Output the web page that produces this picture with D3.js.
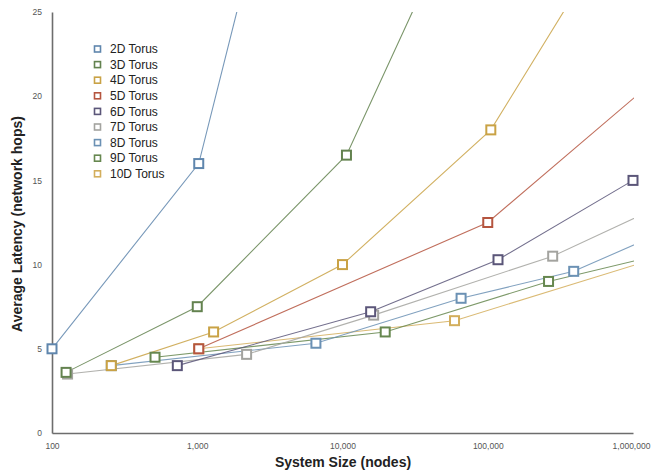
<!DOCTYPE html>
<html><head><meta charset="utf-8">
<script src="https://cdn.jsdelivr.net/npm/d3@7"></script>
<style>body{margin:0;background:#fff;}svg{display:block;font-family:"Liberation Sans",Arial,Helvetica,sans-serif;}</style>
</head><body>
<svg id="chart" width="651" height="471"></svg>
<script>
const seriesNames = ["2D Torus","3D Torus","4D Torus","5D Torus","6D Torus","7D Torus","8D Torus","9D Torus","10D Torus"];
const seriesColors = ["#5f86ad","#63824f","#c9a245","#b5553f","#5b5679","#a3a39f","#6b91b4","#66874f","#d3ae5c"];
const nodes2D = [100, 1024, 10000];            const hops2D = [5, 16, 50];
const nodes3D = [125, 1000, 10648, 97336];     const hops3D = [3.6, 7.5, 16.5, 34.5];
const nodes4D = [256, 1296, 10000, 104976, 1048576]; const hops4D = [4, 6, 10, 18, 32];
const nodes5D = [1024, 100000, 1048576];       const hops5D = [5, 12.5, 20];
const nodes6D = [729, 15625, 117649, 1000000]; const hops6D = [4, 7.2, 10.29, 15];
const nodes7D = [128, 2187, 16384, 279936, 2097152]; const hops7D = [3.5, 4.67, 7, 10.5, 14];
const nodes8D = [256, 6561, 65536, 390625, 1679616]; const hops8D = [4, 5.33, 8, 9.6, 12];
const nodes9D = [512, 19683, 262144, 1953125]; const hops9D = [4.5, 6, 9, 10.8];
const nodes10D = [1024, 59049, 1048576];       const hops10D = [5, 6.67, 10];
const xTicks = [100, 1000, 10000, 100000, 1000000];
const yTicks = [0, 5, 10, 15, 20, 25];

const allNodes = [nodes2D,nodes3D,nodes4D,nodes5D,nodes6D,nodes7D,nodes8D,nodes9D,nodes10D];
const allHops = [hops2D,hops3D,hops4D,hops5D,hops6D,hops7D,hops8D,hops9D,hops10D];
const series = seriesNames.map((n,i)=>({name:n,color:seriesColors[i],pts:allNodes[i].map((x,j)=>({x,y:allHops[i][j]}))}));

const svg = d3.select("#chart");
const L=52, R=633, T=12, B=433;
const x = d3.scaleLog().domain([100,1000000]).range([L,R]);
const y = d3.scaleLinear().domain([0,25]).range([B,T]);

svg.append("defs").append("clipPath").attr("id","plot").append("rect")
  .attr("x",L).attr("y",T).attr("width",R-L+1).attr("height",B-T);

const fmt = d3.format(",");
const xAxis = svg.append("g").attr("transform",`translate(0,${B})`)
  .call(d3.axisBottom(x).tickValues(xTicks).tickFormat(fmt).tickSize(0).tickPadding(8));
const yAxis = svg.append("g").attr("transform",`translate(${L},0)`)
  .call(d3.axisLeft(y).tickValues(yTicks).tickSize(0).tickPadding(10));
[xAxis,yAxis].forEach(a=>{
  a.select(".domain").attr("stroke","#6d6d6d").attr("stroke-width",1.6);
  a.selectAll("text").attr("fill","#555").style("font-size","8.5px");
});
xAxis.selectAll("text").attr("dy","0.9em");
xAxis.selectAll(".tick").filter(d=>d===1000000).select("text").attr("dx","-2");

const line = d3.line().x(d=>x(d.x)).y(d=>y(d.y));
const order = series.slice().reverse();
const gl = svg.append("g").attr("clip-path","url(#plot)");
order.forEach(s=>{
  gl.append("path").datum(s.pts).attr("d",line).attr("fill","none")
    .attr("stroke",s.color).attr("stroke-opacity",0.85).attr("stroke-width",1.1);
});
const gm = svg.append("g");
const ms = 9;
order.forEach(s=>{
  gm.selectAll(null).data(s.pts.filter(d=>d.x<=1000000 && d.y<=25)).enter().append("rect")
    .attr("x",d=>x(d.x)-ms/2).attr("y",d=>y(d.y)-ms/2).attr("width",ms).attr("height",ms)
    .attr("fill","#fff").attr("stroke",s.color).attr("stroke-width",2);
});

const leg = svg.append("g");
series.forEach((s,i)=>{
  const yy = 49 + i*15.6;
  leg.append("rect").attr("x",94.5).attr("y",yy-3).attr("width",6).attr("height",6)
    .attr("fill","#fff").attr("stroke",s.color).attr("stroke-width",1.6);
  leg.append("text").attr("x",110).attr("y",yy).attr("dy","0.35em")
    .style("font-size","12px").attr("fill","#222").text(s.name);
});

svg.append("text").attr("x",343).attr("y",467).attr("text-anchor","middle")
  .style("font-size","14px").style("font-weight","bold").attr("fill","#222").text("System Size (nodes)");
svg.append("text").attr("transform","translate(22,224) rotate(-90)").attr("text-anchor","middle")
  .style("font-size","14px").style("font-weight","bold").attr("fill","#222").text("Average Latency (network hops)");
</script>
</body></html>
